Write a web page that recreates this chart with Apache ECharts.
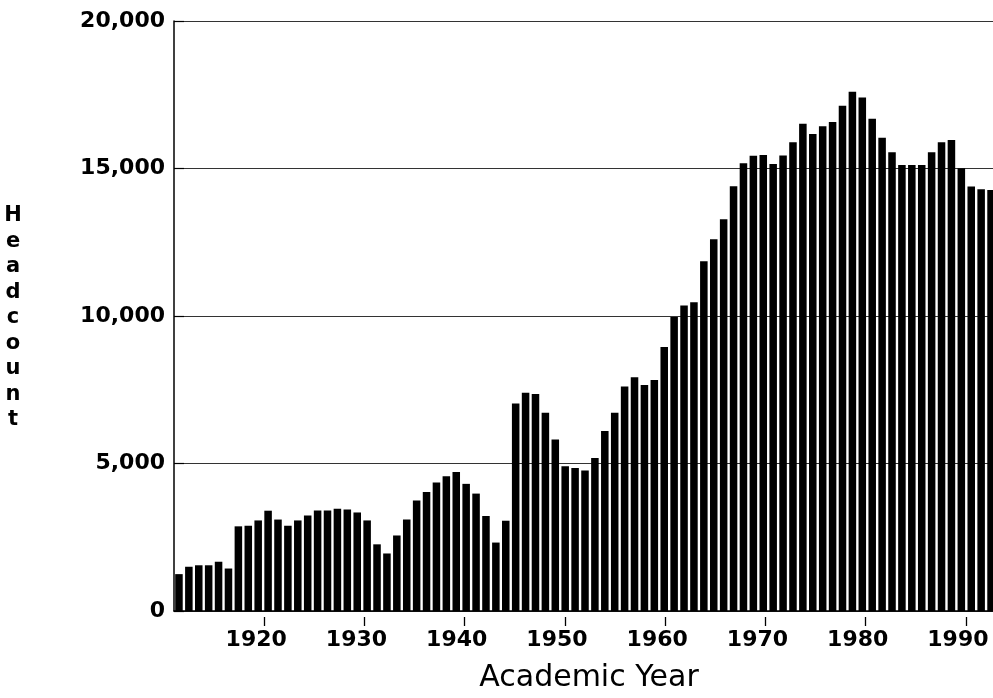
<!DOCTYPE html>
<html>
<head>
<meta charset="utf-8">
<script src="https://cdn.jsdelivr.net/npm/echarts@6/dist/echarts.min.js"></script>
<style>
html,body{margin:0;padding:0;background:#fff;}
#chart{width:993px;height:698px;}
</style>
</head>
<body>
<div id="chart"></div>
<script>
// Academic years (one bar each)
const years = [
  1911,1912,1913,1914,1915,1916,1917,1918,1919,1920,
  1921,1922,1923,1924,1925,1926,1927,1928,1929,1930,
  1931,1932,1933,1934,1935,1936,1937,1938,1939,1940,
  1941,1942,1943,1944,1945,1946,1947,1948,1949,1950,
  1951,1952,1953,1954,1955,1956,1957,1958,1959,1960,
  1961,1962,1963,1964,1965,1966,1967,1968,1969,1970,
  1971,1972,1973,1974,1975,1976,1977,1978,1979,1980,
  1981,1982,1983,1984,1985,1986,1987,1988,1989,1990,
  1991,1992,1993
];
// Headcount per academic year
const headcount = [
  1250,1500,1550,1550,1670,1440,2870,2890,3070,3400,
  3100,2890,3070,3240,3410,3410,3470,3440,3340,3070,
  2260,1950,2560,3100,3750,4030,4360,4570,4710,4310,
  3980,3220,2320,3060,7030,7400,7360,6720,5810,4910,
  4850,4760,5190,6100,6720,7610,7920,7660,7830,8950,
  9970,10360,10470,11860,12600,13280,14400,15180,15430,15460,
  15150,15440,15890,16520,16170,16430,16580,17130,17600,17410,
  16690,16040,15550,15120,15120,15120,15550,15890,15970,15010,
  14390,14300,14270
];
const yearTicks = [1920,1930,1940,1950,1960,1970,1980,1990];
const yTickValues = [0,5000,10000,15000,20000];
const xTitle = 'Academic Year';
const yTitle = 'Headcount';

const FONT = "'DejaVu Sans', 'Liberation Sans', sans-serif";

const chart = echarts.init(document.getElementById('chart'), null, {renderer: 'canvas'});

function fmtThousands(v) {
  return String(v).replace(/\B(?=(\d{3})+(?!\d))/g, ',');
}

chart.setOption({
  animation: false,
  backgroundColor: '#ffffff',
  grid: {left: 174, right: -3, top: 21, bottom: 87, containLabel: false, outerBoundsMode: 'none'},
  xAxis: [
    {
      type: 'category',
      data: years,
      position: 'bottom',
      boundaryGap: true,
      axisLine: {show: true, onZero: false, lineStyle: {color: '#000', width: 1.5}},
      axisTick: {show: false},
      axisLabel: {show: false},
      splitLine: {show: false}
    },
    {
      type: 'value',
      position: 'bottom',
      min: years[0],
      max: years[years.length - 1],
      offset: 6,
      axisLine: {show: false, onZero: false},
      axisTick: {show: true, length: 9, lineStyle: {color: '#000', width: 1.3}, customValues: yearTicks},
      axisLabel: {
        show: true,
        customValues: yearTicks,
        margin: 12,
        fontFamily: FONT,
        fontSize: 22,
        fontWeight: 'bold',
        color: '#000',
        padding: [0, 16, 0, 0],
        formatter: function (v) { return String(v); }
      },
      splitLine: {show: false}
    }
  ],
  yAxis: {
    type: 'value',
    min: yTickValues[0],
    max: yTickValues[yTickValues.length - 1],
    interval: yTickValues[1] - yTickValues[0],
    axisLine: {show: true, lineStyle: {color: '#000', width: 1.5}},
    axisTick: {show: true, inside: true, length: 10, lineStyle: {color: '#000', width: 1.2}},
    axisLabel: {
      margin: 9,
      fontFamily: FONT,
      fontSize: 22,
      fontWeight: 'bold',
      color: '#000',
      formatter: fmtThousands
    },
    splitLine: {show: true, lineStyle: {color: '#333', width: 1}}
  },
  series: [{
    type: 'bar',
    xAxisIndex: 0,
    yAxisIndex: 0,
    data: headcount,
    barWidth: '76%',
    itemStyle: {color: '#000'}
  }],
  graphic: [{
    type: 'text',
    x: 13,
    y: 318,
    style: {
      text: yTitle.split('').join('\n'),
      fontFamily: FONT,
      fontSize: 21,
      fontWeight: 'bold',
      lineHeight: 25.5,
      fill: '#000',
      align: 'center',
      verticalAlign: 'middle',
      textAlign: 'center',
      textVerticalAlign: 'middle'
    }
  }, {
    type: 'text',
    x: 589,
    y: 678,
    style: {
      text: xTitle,
      fontFamily: FONT,
      fontSize: 30,
      fill: '#000',
      align: 'center',
      verticalAlign: 'middle',
      textAlign: 'center',
      textVerticalAlign: 'middle'
    }
  }]
});
</script>
</body>
</html>
